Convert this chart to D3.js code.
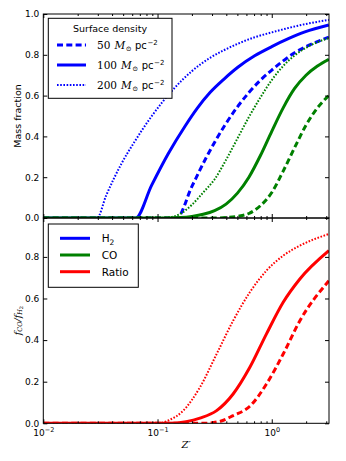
<!DOCTYPE html>
<html><head><meta charset="utf-8">
<script src="https://cdn.jsdelivr.net/npm/d3@7"></script>
<style>body{margin:0;background:#fff}</style>
</head><body><svg id="c" width="346" height="461"></svg>
<script>
// ---- data ----
const surfaceDensities = [50, 100, 200];
const xTickValues = [0.01, 0.1, 1];
const xTickExps = ["\u22122", "\u22121", "0"];
const yTicksTop = [0, 0.2, 0.4, 0.6, 0.8, 1.0];
const yTicksBottom = [0, 0.2, 0.4, 0.6, 0.8];
const legend2Labels = ["H2", "CO", "Ratio"];

// H2 mass fraction
const zH2_50  = [0.01, 0.147, 0.2, 0.269, 0.389, 0.501, 0.631, 0.794, 1.0, 1.259, 1.585, 1.995, 2.512, 3.16];
const fH2_50  = [0, 0, 0.155, 0.30, 0.455, 0.545, 0.615, 0.675, 0.725, 0.77, 0.81, 0.84, 0.865, 0.887];
const zH2_100 = [0.01, 0.0643, 0.0887, 0.124, 0.174, 0.224, 0.288, 0.38, 0.508, 0.708, 1.0, 1.413, 1.95, 3.16];
const fH2_100 = [0, 0, 0.16, 0.315, 0.45, 0.54, 0.615, 0.68, 0.74, 0.795, 0.84, 0.88, 0.912, 0.946];
const zH2_200 = [0.01, 0.0295, 0.0355, 0.0485, 0.0631, 0.0891, 0.137, 0.2, 0.288, 0.38, 0.508, 0.708, 1.0, 1.413, 1.95, 3.16];
const fH2_200 = [0, 0, 0.11, 0.268, 0.375, 0.50, 0.63, 0.72, 0.785, 0.822, 0.855, 0.886, 0.91, 0.932, 0.95, 0.971];

// CO mass fraction
const zCO_50  = [0.01, 0.316, 0.398, 0.501, 0.631, 0.794, 1.0, 1.259, 1.585, 1.995, 2.512, 3.16];
const fCO_50  = [0, 0, 0.002, 0.008, 0.022, 0.06, 0.125, 0.23, 0.345, 0.455, 0.54, 0.60];
const zCO_100 = [0.01, 0.126, 0.158, 0.2, 0.251, 0.316, 0.398, 0.501, 0.631, 0.794, 1.0, 1.259, 1.585, 1.995, 2.512, 3.16];
const fCO_100 = [0, 0, 0.002, 0.008, 0.018, 0.036, 0.068, 0.122, 0.2, 0.305, 0.425, 0.54, 0.635, 0.70, 0.745, 0.778];
const zCO_200 = [0.01, 0.1, 0.126, 0.158, 0.2, 0.251, 0.316, 0.398, 0.501, 0.631, 0.794, 1.0, 1.259, 1.585, 1.995, 2.512, 3.16];
const fCO_200 = [0, 0, 0.003, 0.02, 0.065, 0.125, 0.19, 0.285, 0.39, 0.495, 0.59, 0.676, 0.745, 0.797, 0.835, 0.862, 0.882];

// Ratio f_CO / f_H2
const zR_50  = [0.01, 0.251, 0.355, 0.459, 0.643, 0.899, 1.259, 1.762, 3.16];
const fR_50  = [0, 0, 0.01, 0.037, 0.082, 0.189, 0.333, 0.493, 0.685];
const zR_100 = [0.01, 0.126, 0.178, 0.235, 0.329, 0.459, 0.643, 0.899, 1.259, 1.762, 3.16];
const fR_100 = [0, 0, 0.008, 0.025, 0.061, 0.141, 0.269, 0.43, 0.582, 0.694, 0.83];
const zR_200 = [0.01, 0.1, 0.126, 0.168, 0.235, 0.329, 0.459, 0.643, 0.899, 1.259, 1.762, 3.16];
const fR_200 = [0, 0, 0.015, 0.061, 0.173, 0.333, 0.493, 0.63, 0.734, 0.806, 0.854, 0.91];

// ---- styles ----
const colors = {H2: "#0000ff", CO: "#008000", R: "#ff0000"};
const dashFor = {50: "6,3.3", 100: null, 200: "1.6,1.6"};
const widthFor = {50: 3, 100: 3, 200: 2};

const pair = (zs, fs) => zs.map((z, i) => [z, fs[i]]);

const svg = d3.select("#c");
const L = 43.3, R = 329, T1 = 14, B1 = 218, T2 = 218, B2 = 423.3;
const x = d3.scaleLog().domain([0.01, 3.17]).range([L, R]);
const yTop = d3.scaleLinear().domain([0, 1]).range([B1, T1]);
const yBot = d3.scaleLinear().domain([0, 0.987]).range([B2, T2]);

const defs = svg.append("defs");
defs.append("clipPath").attr("id", "cp1").append("rect").attr("x", L).attr("y", T1).attr("width", R - L).attr("height", B1 - T1);
defs.append("clipPath").attr("id", "cp2").append("rect").attr("x", L).attr("y", T2).attr("width", R - L).attr("height", B2 - T2);

function drawSeries(g, y, data, color, sd) {
  const line = d3.line().x(d => x(d[0])).y(d => y(d[1])).curve(d3.curveMonotoneX);
  const p = g.append("path").datum(data).attr("d", line)
    .attr("fill", "none").attr("stroke", color)
    .attr("stroke-width", widthFor[sd]);
  if (dashFor[sd]) p.attr("stroke-dasharray", dashFor[sd]);
}

const g1 = svg.append("g").attr("clip-path", "url(#cp1)");
const g2 = svg.append("g").attr("clip-path", "url(#cp2)");

const H2 = {50: pair(zH2_50, fH2_50), 100: pair(zH2_100, fH2_100), 200: pair(zH2_200, fH2_200)};
const CO = {50: pair(zCO_50, fCO_50), 100: pair(zCO_100, fCO_100), 200: pair(zCO_200, fCO_200)};
const RA = {50: pair(zR_50, fR_50), 100: pair(zR_100, fR_100), 200: pair(zR_200, fR_200)};

surfaceDensities.forEach(sd => drawSeries(g1, yTop, H2[sd], colors.H2, sd));
surfaceDensities.forEach(sd => drawSeries(g1, yTop, CO[sd], colors.CO, sd));
surfaceDensities.forEach(sd => drawSeries(g2, yBot, RA[sd], colors.R, sd));

// ---- axes ----
const minorX = [];
[-2, -1, 0].forEach(d => { for (let k = 2; k <= 9; k++) { const v = k * Math.pow(10, d); if (v <= 3.17) minorX.push(v); } });

const font = "DejaVu Sans, sans-serif";
function styleAxis(sel) {
  sel.select(".domain").remove();
  sel.selectAll("line").attr("stroke", "#000").attr("stroke-width", 1);
  sel.selectAll("text").attr("font-family", font).attr("font-size", 9).attr("fill", "#000");
}

function panelAxes(y, top, bottom, yTicks, showX) {
  svg.append("g").attr("transform", `translate(${L},0)`)
    .call(d3.axisLeft(y).tickValues(yTicks).tickFormat(d3.format(".1f")).tickSizeInner(-4).tickSizeOuter(0).tickPadding(4))
    .call(styleAxis);
  svg.append("g").attr("transform", `translate(${R},0)`)
    .call(d3.axisRight(y).tickValues(yTicks).tickFormat("").tickSizeInner(-4).tickSizeOuter(0))
    .call(styleAxis);
  svg.append("g").attr("transform", `translate(0,${top})`)
    .call(d3.axisTop(x).tickValues(xTickValues).tickFormat("").tickSizeInner(-4).tickSizeOuter(0)).call(styleAxis);
  svg.append("g").attr("transform", `translate(0,${top})`)
    .call(d3.axisTop(x).tickValues(minorX).tickFormat("").tickSizeInner(-2).tickSizeOuter(0)).call(styleAxis);
  const bx = svg.append("g").attr("transform", `translate(0,${bottom})`)
    .call(d3.axisBottom(x).tickValues(xTickValues).tickFormat("").tickSizeInner(-4).tickSizeOuter(0).tickPadding(5)).call(styleAxis);
  svg.append("g").attr("transform", `translate(0,${bottom})`)
    .call(d3.axisBottom(x).tickValues(minorX).tickFormat("").tickSizeInner(-2).tickSizeOuter(0)).call(styleAxis);
  if (showX) {
    bx.selectAll(".tick").each(function(d, i) {
      const t = d3.select(this).append("text").attr("y", 13).attr("text-anchor", "middle")
        .attr("font-family", font).attr("font-size", 9).attr("fill", "#000");
      t.append("tspan").text("10");
      t.append("tspan").attr("dy", -4).attr("font-size", 6.5).text(xTickExps[i]);
    });
  }
  svg.append("rect").attr("x", L).attr("y", top).attr("width", R - L).attr("height", bottom - top)
    .attr("fill", "none").attr("stroke", "#000").attr("stroke-width", 1);
}
panelAxes(yTop, T1, B1, yTicksTop, false);
panelAxes(yBot, T2, B2, yTicksBottom, true);

// axis labels
svg.append("text").attr("transform", `translate(17,${(T1 + B1) / 2}) rotate(-90)`)
  .attr("text-anchor", "middle").attr("dominant-baseline", "central")
  .attr("font-family", font).attr("font-size", 9.5).text("Mass fraction");

const yl = svg.append("text").attr("transform", `translate(17,${(T2 + B2) / 2}) rotate(-90)`)
  .attr("text-anchor", "middle").attr("dominant-baseline", "central")
  .attr("font-family", "DejaVu Serif, serif").attr("font-style", "italic").attr("font-size", 9.5);
yl.append("tspan").text("f");
yl.append("tspan").attr("dy", 2.5).attr("font-size", 6.5).text("CO");
yl.append("tspan").attr("dy", -2.5).text("/f");
yl.append("tspan").attr("dy", 2.5).attr("font-size", 6.5).text("H");
yl.append("tspan").attr("dy", 1.5).attr("font-size", 5).attr("font-style", "normal").text("2");

svg.append("text").attr("x", (L + R) / 2).attr("y", 448).attr("text-anchor", "middle")
  .attr("font-family", "DejaVu Serif, serif").attr("font-style", "italic").attr("font-size", 10)
  .text("Z\u2032");

// ---- legend 1 ----
const lg1 = svg.append("g");
lg1.append("rect").attr("x", 48.3).attr("y", 18.3).attr("width", 123.7).attr("height", 80)
  .attr("fill", "#fff").attr("stroke", "#000").attr("stroke-width", 1);
lg1.append("text").attr("x", 110).attr("y", 32).attr("text-anchor", "middle")
  .attr("font-family", font).attr("font-size", 9.5).text("Surface density");
surfaceDensities.forEach((sd, i) => {
  const yy = 45 + i * 20;
  const ln = lg1.append("line").attr("x1", 57).attr("x2", 86).attr("y1", yy).attr("y2", yy)
    .attr("stroke", colors.H2).attr("stroke-width", widthFor[sd]);
  if (dashFor[sd]) ln.attr("stroke-dasharray", dashFor[sd]);
  const t = lg1.append("text").attr("x", 97).attr("y", yy + 3.5).attr("font-size", 10.5);
  t.append("tspan").attr("font-family", "DejaVu Serif, serif").text(sd);
  t.append("tspan").attr("font-family", "DejaVu Serif, serif").attr("font-style", "italic").attr("dx", 4).text("M");
  t.append("tspan").attr("font-family", "DejaVu Serif, serif").attr("font-size", 7).attr("dx", 0.5).attr("dy", 2.5).text("\u2299");
  t.append("tspan").attr("font-family", font).attr("font-size", 10).attr("dx", 3.5).attr("dy", -2.5).text("pc");
  t.append("tspan").attr("font-family", font).attr("font-size", 7).attr("dx", 0.5).attr("dy", -4).text("\u22122");
});

// ---- legend 2 ----
const lg2 = svg.append("g");
lg2.append("rect").attr("x", 48.3).attr("y", 224).attr("width", 90).attr("height", 63.3)
  .attr("fill", "#fff").attr("stroke", "#000").attr("stroke-width", 1);
[colors.H2, colors.CO, colors.R].forEach((c, i) => {
  const yy = 238.3 + i * 16.7;
  lg2.append("line").attr("x1", 60).attr("x2", 90).attr("y1", yy).attr("y2", yy)
    .attr("stroke", c).attr("stroke-width", 3);
  const t = lg2.append("text").attr("x", 101.7).attr("y", yy + 4)
    .attr("font-family", font).attr("font-size", 10.5);
  if (i === 0) {
    t.append("tspan").text("H");
    t.append("tspan").attr("font-size", 7.5).attr("dy", 2.5).text("2");
  } else {
    t.text(legend2Labels[i]);
  }
});
</script>
</body></html>
